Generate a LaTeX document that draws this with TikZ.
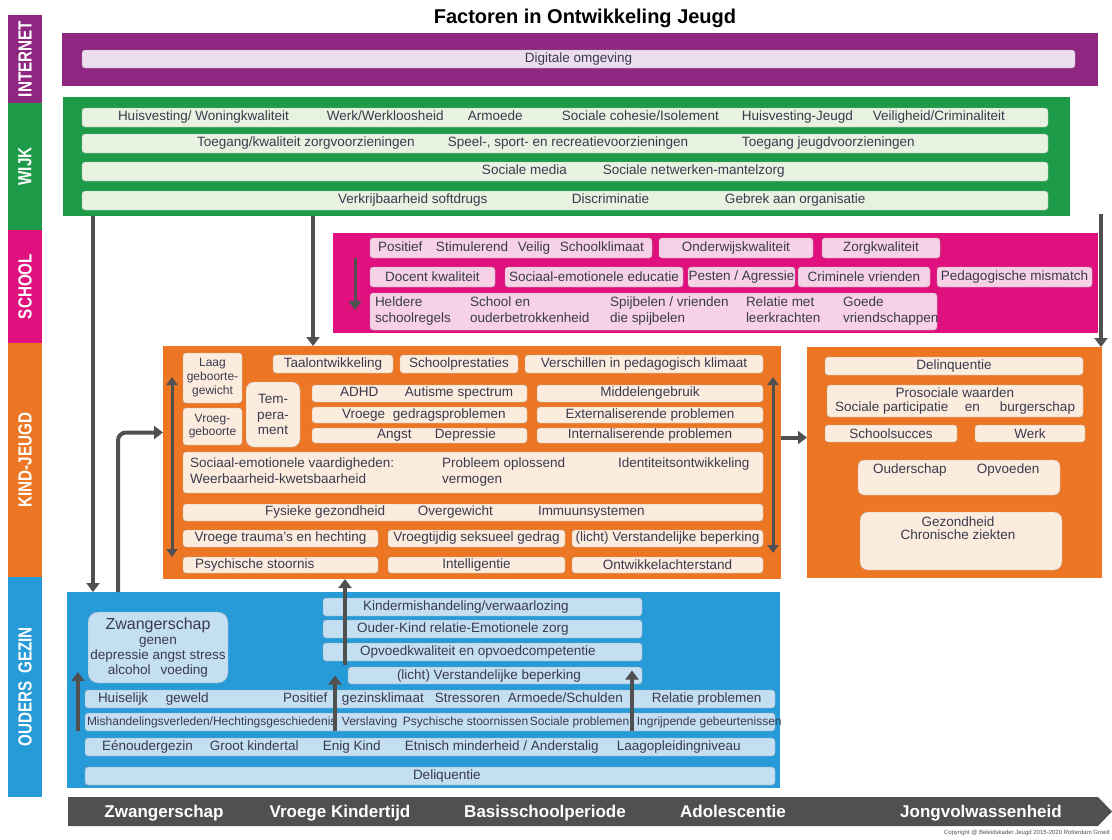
\documentclass[tikz,border=0pt]{standalone}
\usepackage{fontspec}
\setmainfont{Liberation Sans}
\newfontfamily\smal[FakeStretch=0.8]{Liberation Sans}
\usepackage{tikz}
\usetikzlibrary{arrows.meta,calc}

\definecolor{paars}{RGB}{142,38,130}
\definecolor{paarslicht}{RGB}{236,222,238}
\definecolor{groen}{RGB}{30,155,72}
\definecolor{groenlicht}{RGB}{231,242,224}
\definecolor{roze}{RGB}{224,17,127}
\definecolor{rozelicht}{RGB}{247,210,230}
\definecolor{oranje}{RGB}{236,118,35}
\definecolor{oranjelicht}{RGB}{252,236,222}
\definecolor{blauw}{RGB}{38,155,215}
\definecolor{blauwlicht}{RGB}{196,222,242}
\definecolor{grijs}{RGB}{80,80,80}
\definecolor{inkt}{RGB}{58,58,78}

\newcommand{\rij}[2]{\makebox[#1pt][l]{#2}}
\newcommand{\bij}[2]{\makebox[0pt][l]{\hspace*{#1pt}#2}}
\newcommand{\twee}[2]{\begin{tabular}[b]{@{}l@{}}#1\\#2\end{tabular}}

\tikzset{
  maat/.style 2 args={minimum width=#1pt, minimum height=#2pt},
  laag/.style={fill=#1, inner sep=0pt, outer sep=0pt},
  strook/.style={fill=#1, text=white, rotate=90, inner sep=0pt, font=\smal\bfseries\fontsize{19}{19}\selectfont},
  item/.style={fill=#1, draw=#1!75!black, line width=0.4pt, rounded corners=3pt, inner sep=0pt, outer sep=0pt, text=inkt, font=\fontsize{13.5}{16}\selectfont},
  tekst/.style={inner sep=0pt, text=inkt, font=\fontsize{13.5}{16}\selectfont},
  pijl/.style={draw=grijs, line width=4pt, -{Triangle[length=9pt,width=13pt]}},
  dubbel/.style={draw=grijs, line width=3pt, {Triangle[length=8pt,width=11pt]}-{Triangle[length=8pt,width=11pt]}},
  fase/.style={text=white, inner sep=0pt, anchor=base, font=\bfseries\fontsize{17}{17}\selectfont}
}

\begin{document}
\begin{tikzpicture}[x=1pt,y=-1pt]
    \useasboundingbox (0,0) rectangle (1112,839);

    \node[font=\bfseries\fontsize{20}{20}\selectfont] (titel) at (585,18) {Factoren in Ontwikkeling Jeugd};

    % strook links
    \node[strook=paars, maat={88}{34}] (lInternet) at (25,59) {INTERNET};
    \node[strook=groen, maat={127}{34}] (lWijk) at (25,166.5) {WIJK};
    \node[strook=roze, maat={113}{34}] (lSchool) at (25,286.5) {SCHOOL};
    \node[strook=oranje, maat={234}{34}] (lKind) at (25,460) {KIND-JEUGD};
    \node[strook=blauw, maat={220}{34}] (lOuders) at (25,687) {OUDERS\hspace{8pt}GEZIN};

    % internet
    \node[laag=paars, maat={1036}{53}] (internet) at (580,59.5) {};
    \node[item=paarslicht, maat={993}{18}] (digitaal) at (578.5,59) {Digitale omgeving};

    % wijk
    \node[laag=groen, maat={1007}{119}] (wijk) at (566.5,156.5) {};
    \node[item=groenlicht, maat={966}{19}] (w1) at (565,117.5) {\rij{966}{\bij{36}{Huisvesting/ Woningkwaliteit}\bij{245}{Werk/Werkloosheid}\bij{386}{Armoede}\bij{480}{Sociale cohesie/Isolement}\bij{660}{Huisvesting-Jeugd}\bij{791}{Veiligheid/Criminaliteit}}};
    \node[item=groenlicht, maat={966}{19}] (w2) at (565,143.5) {\rij{966}{\bij{115}{Toegang/kwaliteit zorgvoorzieningen}\bij{366}{Speel-, sport- en recreatievoorzieningen}\bij{660}{Toegang jeugdvoorzieningen}}};
    \node[item=groenlicht, maat={966}{19}] (w3) at (565,171.5) {\rij{966}{\bij{400}{Sociale media}\bij{521}{Sociale netwerken-mantelzorg}}};
    \node[item=groenlicht, maat={966}{19}] (w4) at (565,200.5) {\rij{966}{\bij{256}{Verkrijbaarheid softdrugs}\bij{490}{Discriminatie}\bij{643}{Gebrek aan organisatie}}};

    % school
    \node[laag=roze, maat={765}{100}] (school) at (715.5,283) {};
    \node[item=rozelicht, maat={282}{20}] (s1) at (511,248) {\rij{282}{\bij{8}{Positief}\bij{66}{Stimulerend}\bij{148}{Veilig}\bij{190}{Schoolklimaat}}};
    \node[item=rozelicht, maat={154}{20}] (s2) at (736,248) {Onderwijskwaliteit};
    \node[item=rozelicht, maat={118}{20}] (s3) at (881,248) {Zorgkwaliteit};
    \node[item=rozelicht, maat={125}{20}] (s4) at (432.5,277) {Docent kwaliteit};
    \node[item=rozelicht, maat={178}{20}] (s5) at (594,277) {Sociaal-emotionele educatie};
    \node[item=rozelicht, maat={107}{20}] (s6) at (741.5,277) {Pesten / Agressie};
    \node[item=rozelicht, maat={132}{20}] (s7) at (864,277) {Criminele vrienden};
    \node[item=rozelicht, maat={155}{20}] (s8) at (1014.5,277) {Pedagogische mismatch};
    \node[item=rozelicht, maat={567}{37}] (s9) at (653.5,311.5) {\rij{567}{\bij{5}{\twee{Heldere}{schoolregels}}\bij{100}{\twee{School en}{ouderbetrokkenheid}}\bij{240}{\twee{Spijbelen / vrienden}{die spijbelen}}\bij{376}{\twee{Relatie met}{leerkrachten}}\bij{473}{\twee{Goede}{vriendschappen}}}};

    % kind-jeugd
    \node[laag=oranje, maat={618}{233}] (kind) at (472,462.5) {};
    \node[item=oranjelicht, maat={59}{50}, align=center, font=\fontsize{12}{14}\selectfont] (k1) at (212.5,378) {Laag\\geboorte-\\gewicht};
    \node[item=oranjelicht, maat={59}{37}, align=center, font=\fontsize{12}{13}\selectfont] (k2) at (212.5,426.5) {Vroeg-\\geboorte};
    \node[item=oranjelicht, maat={54}{65}, align=center, rounded corners=8pt, font=\fontsize{13.5}{15.5}\selectfont] (k3) at (273,414.5) {Tem-\\pera-\\ment};
    \node[item=oranjelicht, maat={120}{18}] (k4) at (333,364) {Taalontwikkeling};
    \node[item=oranjelicht, maat={118}{18}] (k5) at (459,364) {Schoolprestaties};
    \node[item=oranjelicht, maat={238}{18}] (k6) at (644,364) {Verschillen in pedagogisch klimaat};
    \node[item=oranjelicht, maat={215}{17}] (k7) at (419.5,393.5) {\rij{215}{\bij{28}{ADHD}\bij{93}{Autisme spectrum}}};
    \node[item=oranjelicht, maat={226}{17}] (k8) at (650,393.5) {Middelengebruik};
    \node[item=oranjelicht, maat={215}{16}] (k9) at (419.5,415) {\rij{215}{\bij{30}{Vroege}\bij{81}{gedragsproblemen}}};
    \node[item=oranjelicht, maat={226}{16}] (k10) at (650,415) {Externaliserende problemen};
    \node[item=oranjelicht, maat={215}{15}] (k11) at (419.5,435.5) {\rij{215}{\bij{65}{Angst}\bij{123}{Depressie}}};
    \node[item=oranjelicht, maat={226}{15}] (k12) at (650,435.5) {Internaliserende problemen};
    \node[item=oranjelicht, maat={580}{41}] (k13) at (473,472.5) {\rij{580}{\bij{7}{\twee{Sociaal-emotionele vaardigheden:}{Weerbaarheid-kwetsbaarheid}}\bij{259}{\twee{Probleem oplossend}{vermogen}}\bij{435}{\twee{Identiteitsontwikkeling}{\strut}}}};
    \node[item=oranjelicht, maat={580}{17}] (k14) at (473,512.5) {\rij{580}{\bij{82}{Fysieke gezondheid}\bij{235}{Overgewicht}\bij{355}{Immuunsystemen}}};
    \node[item=oranjelicht, maat={195}{17}] (k15) at (280.5,538.5) {Vroege trauma's en hechting};
    \node[item=oranjelicht, maat={177}{17}] (k16) at (476.5,538.5) {Vroegtijdig seksueel gedrag};
    \node[item=oranjelicht, maat={191}{17}] (k17) at (667.5,538.5) {(licht) Verstandelijke beperking};
    \node[item=oranjelicht, maat={195}{16}] (k18) at (280.5,565) {\rij{195}{\bij{12}{Psychische stoornis}}};
    \node[item=oranjelicht, maat={177}{16}] (k19) at (476.5,565) {Intelligentie};
    \node[item=oranjelicht, maat={191}{16}] (k20) at (667.5,565) {Ontwikkelachterstand};

    % uitkomsten
    \node[laag=oranje, maat={295}{231}] (uitkomst) at (954.5,462.5) {};
    \node[item=oranjelicht, maat={258}{18}] (u1) at (954,366) {Delinquentie};
    \node[item=oranjelicht, maat={256}{32}, align=center, font=\fontsize{13.5}{14}\selectfont] (u2) at (955,401) {Prosociale waarden\\\rij{256}{\bij{8}{Sociale participatie}\bij{138}{en}\bij{173}{burgerschap}}};
    \node[item=oranjelicht, maat={132}{17}] (u3) at (891,433.5) {Schoolsucces};
    \node[item=oranjelicht, maat={110}{17}] (u4) at (1030,433.5) {Werk};
    \node[item=oranjelicht, maat={202}{35}, rounded corners=6pt] (u5) at (959,477.5) {};
    \node[tekst] (u5t) at (959,470) {\rij{202}{\bij{15}{Ouderschap}\bij{119}{Opvoeden}}};
    \node[item=oranjelicht, maat={202}{58}, rounded corners=8pt] (u6) at (961,541) {};
    \node[tekst, align=center, font=\fontsize{13.5}{13}\selectfont] (u6t) at (958,528) {Gezondheid\\Chronische ziekten};

    % ouders gezin
    \node[laag=blauw, maat={713}{196}] (gezin) at (423.5,690) {};
    \node[item=blauwlicht, maat={140}{71}, rounded corners=10pt, align=center, font=\fontsize{13.5}{15}\selectfont] (g1) at (158,647.5) {{\fontsize{16}{16}\selectfont Zwangerschap}\\genen\\depressie angst stress\\alcohol\hspace{10pt}voeding};
    \node[item=blauwlicht, maat={319}{18}] (g2) at (482.5,607) {\rij{319}{\bij{40}{Kindermishandeling/verwaarlozing}}};
    \node[item=blauwlicht, maat={319}{18}] (g3) at (482.5,629) {\rij{319}{\bij{34}{Ouder-Kind relatie-Emotionele zorg}}};
    \node[item=blauwlicht, maat={319}{18}] (g4) at (482.5,652) {\rij{319}{\bij{37}{Opvoedkwaliteit en opvoedcompetentie}}};
    \node[item=blauwlicht, maat={294}{17}] (g5) at (495,675.5) {\rij{294}{\bij{49}{(licht) Verstandelijke beperking}}};
    \node[item=blauwlicht, maat={690}{18}] (g6) at (430,699) {\rij{690}{\bij{13}{Huiselijk}\bij{81}{geweld}\bij{198}{Positief}\bij{257}{gezinsklimaat}\bij{350}{Stressoren}\bij{423}{Armoede/Schulden}\bij{567}{Relatie problemen}}};
    \node[item=blauwlicht, maat={690}{18}, font=\fontsize{12}{14}\selectfont] (g7) at (430,722) {\rij{690}{\bij{2}{Mishandelingsverleden/Hechtingsgeschiedenis}\bij{257}{Verslaving}\bij{318}{Psychische stoornissen}\bij{445}{Sociale problemen}\bij{552}{Ingrijpende gebeurtenissen}}};
    \node[item=blauwlicht, maat={690}{18}] (g8) at (430,747) {\rij{690}{\bij{17}{Eénoudergezin}\bij{125}{Groot kindertal}\bij{238}{Enig Kind}\bij{320}{Etnisch minderheid / Anderstalig}\bij{532}{Laagopleidingniveau}}};
    \node[item=blauwlicht, maat={690}{18}] (g9) at (430,776) {\rij{690}{\bij{328}{Deliquentie}}};

    % pijlen
    \draw[pijl] ($(wijk.south west)+(30,0)$) -- ($(gezin.north west)+(26,0)$);
    \draw[pijl] ($(wijk.south west)+(250,0)$) -- ($(wijk.south west |- kind.north)+(250,0)$);
    \draw[pijl] ($(wijk.south east)+(31,-2)$) -- ($(wijk.south east |- uitkomst.north)+(31,0)$);
    \draw[pijl, rounded corners=8pt] ($(gezin.north west)+(51,0)$) |- ($(kind.west)+(0,-30)$);
    \draw[pijl] ($(kind.east)+(0,-25)$) -- ($(uitkomst.west)+(0,-25)$);
    \draw[pijl] ($(g5.north west)+(-3,-2)$) -- ($(g5.north west |- kind.south)+(-3,0)$);
    \draw[pijl] ($(g7.south west)+(-7,0)$) -- ($(g7.south west |- g1.south)+(-7,-11)$);
    \draw[pijl] ($(g7.south west)+(250,0)$) -- ($(g7.south west |- g5.west)+(250,0)$);
    \draw[pijl] ($(g7.south west)+(547,0)$) -- ($(g7.south west |- g5.west)+(547,-5)$);
    \draw[pijl, line width=3pt] ($(school.north west)+(22,25)$) -- ($(school.north west)+(22,77)$);
    \draw[dubbel] ($(kind.north west)+(9,31)$) -- ($(kind.north west)+(9,211)$);
    \draw[dubbel] ($(kind.north east)+(-8,31)$) -- ($(kind.north east)+(-8,207)$);

    % tijdlijn
    \fill[grijs] (68,797) -- (1098,797) -- (1112,811.5) -- (1098,826) -- (68,826) -- cycle;
    \node[fase] (f1) at (164,817.5) {Zwangerschap};
    \node[fase] (f2) at (340,817.5) {Vroege Kindertijd};
    \node[fase] (f3) at (545,817.5) {Basisschoolperiode};
    \node[fase] (f4) at (733,817.5) {Adolescentie};
    \node[fase] (f5) at (981,817.5) {Jongvolwassenheid};
    \node[anchor=east, inner sep=0pt, text=grijs, font=\fontsize{6}{6}\selectfont] (copy) at (1110,833) {Copyright @ Beleidskader Jeugd 2015-2020 Rotterdam Groeit};
\end{tikzpicture}
\end{document}
